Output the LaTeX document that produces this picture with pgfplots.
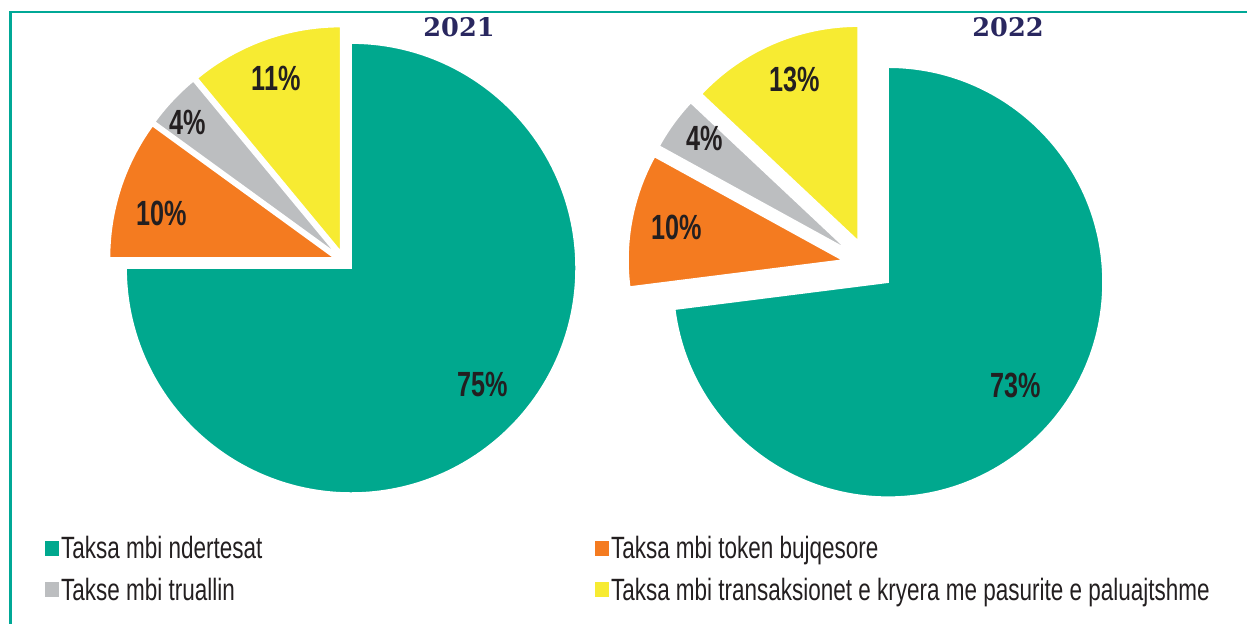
\documentclass[border=0pt]{standalone}
\usepackage{pgfplots}
\usepackage{pgfplotstable}
\pgfplotsset{compat=1.18}
\usepackage{fontspec}
\setmainfont{Liberation Sans}[FakeStretch=0.73]
\newfontfamily\labfont{Liberation Sans}[FakeStretch=0.72]
\newfontfamily\titlefont{DejaVu Serif}
\definecolor{pgreen}{RGB}{0,168,142}
\definecolor{porange}{RGB}{244,123,32}
\definecolor{pgray}{RGB}{188,190,192}
\definecolor{pyellow}{RGB}{247,235,50}
\definecolor{pnavy}{RGB}{41,39,95}
\definecolor{ptext}{RGB}{35,31,32}
\definecolor{pframe}{RGB}{0,168,150}

% shares (%), clockwise from 12 o'clock
\pgfplotstableread{
pct col
75 pgreen
10 porange
4 pgray
11 pyellow
}\pieA
\pgfplotstableread{
pct col
73 pgreen
10 porange
4 pgray
13 pyellow
}\pieB

\gdef\piestart{90}
\newcommand\slice[6]{% cx cy R d pct colour  (units: reference pixels)
  \pgfmathsetmacro\aA{\piestart}%
  \pgfmathsetmacro\aB{\piestart-3.6*#5}%
  \pgfmathsetmacro\aM{(\aA+\aB)/2}%
  \pgfmathsetmacro\ox{#1+#4*cos(\aM)}%
  \pgfmathsetmacro\oy{#2+#4*sin(\aM)}%
  \pgfmathsetmacro\px{\ox+#3*cos(\aA)}%
  \pgfmathsetmacro\py{\oy+#3*sin(\aA)}%
  \pgfmathsetmacro\rr{0.5*#3}%
  \edef\tmp{\noexpand\filldraw[fill=#6,draw=white,line width=0.8pt] (axis cs:\ox,\oy) -- (axis cs:\px,\py) arc[start angle=\aA,end angle=\aB,radius=\rr pt] -- cycle;}%
  \tmp
  \xdef\piestart{\aB}%
}
\newcommand\drawpie[5]{% table cx cy R d
  \gdef\piestart{90}%
  \pgfplotsforeachungrouped \i in {0,1,2,3}{%
    \pgfplotstablegetelem{\i}{pct}\of{#1}\let\vv\pgfplotsretval
    \pgfplotstablegetelem{\i}{col}\of{#1}\let\cc\pgfplotsretval
    \slice{#2}{#3}{#4}{#5}{\vv}{\cc}%
  }%
}

\begin{document}
\begin{tikzpicture}
\path[use as bounding box] (0,0) rectangle (623.5pt,312pt);
\begin{axis}[
  x=0.5pt, y=0.5pt, xmin=0, xmax=1247, ymin=0, ymax=624,
  at={(0,0)}, anchor=origin, hide axis, clip=false,
  legend columns=2,
  legend cell align=left,
  legend style={at={(axis cs:45,90)}, anchor=north west, draw=none, fill=none,
    font=\fontsize{15.4}{17}\selectfont\color{ptext},
    inner sep=0pt, row sep=6.1pt,
    nodes={inner sep=1pt}},
]
\draw[pframe, line width=1.1pt] (axis cs:10.5,-20) -- (axis cs:10.5,612) -- (axis cs:1270,612);

\drawpie{\pieA}{344}{363}{225}{10}
\drawpie{\pieB}{868.5}{359}{215}{26}

\node[font=\titlefont\bfseries\fontsize{12.8}{14}\selectfont, text=pnavy] at (axis cs:459,597) {2021};
\node[font=\titlefont\bfseries\fontsize{12.8}{14}\selectfont, text=pnavy] at (axis cs:1008,597) {2022};

\tikzset{lab/.style={font=\labfont\bfseries\fontsize{17.5}{20}\selectfont, text=ptext}}
\node[lab] at (axis cs:276,546) {11\%};
\node[lab] at (axis cs:188,502) {4\%};
\node[lab] at (axis cs:162,411) {10\%};
\node[lab] at (axis cs:483,239) {75\%};
\node[lab] at (axis cs:795,545) {13\%};
\node[lab] at (axis cs:705,486) {4\%};
\node[lab] at (axis cs:677,397) {10\%};
\node[lab] at (axis cs:1016,239) {73\%};

\addlegendimage{legend image code/.code={\fill[pgreen] (0pt,-3pt) rectangle (6.5pt,4pt);}}
\addlegendentry{\makebox[266pt][l]{Taksa mbi ndertesat}}
\addlegendimage{legend image code/.code={\fill[porange] (0pt,-3pt) rectangle (6.5pt,4pt);}}
\addlegendentry{Taksa mbi token bujqesore}
\addlegendimage{legend image code/.code={\fill[pgray] (0pt,-3pt) rectangle (6.5pt,4pt);}}
\addlegendentry{\makebox[266pt][l]{Takse mbi truallin}}
\addlegendimage{legend image code/.code={\fill[pyellow] (0pt,-3pt) rectangle (6.5pt,4pt);}}
\addlegendentry{Taksa mbi transaksionet e kryera me pasurite e paluajtshme}
\end{axis}
\end{tikzpicture}
\end{document}
